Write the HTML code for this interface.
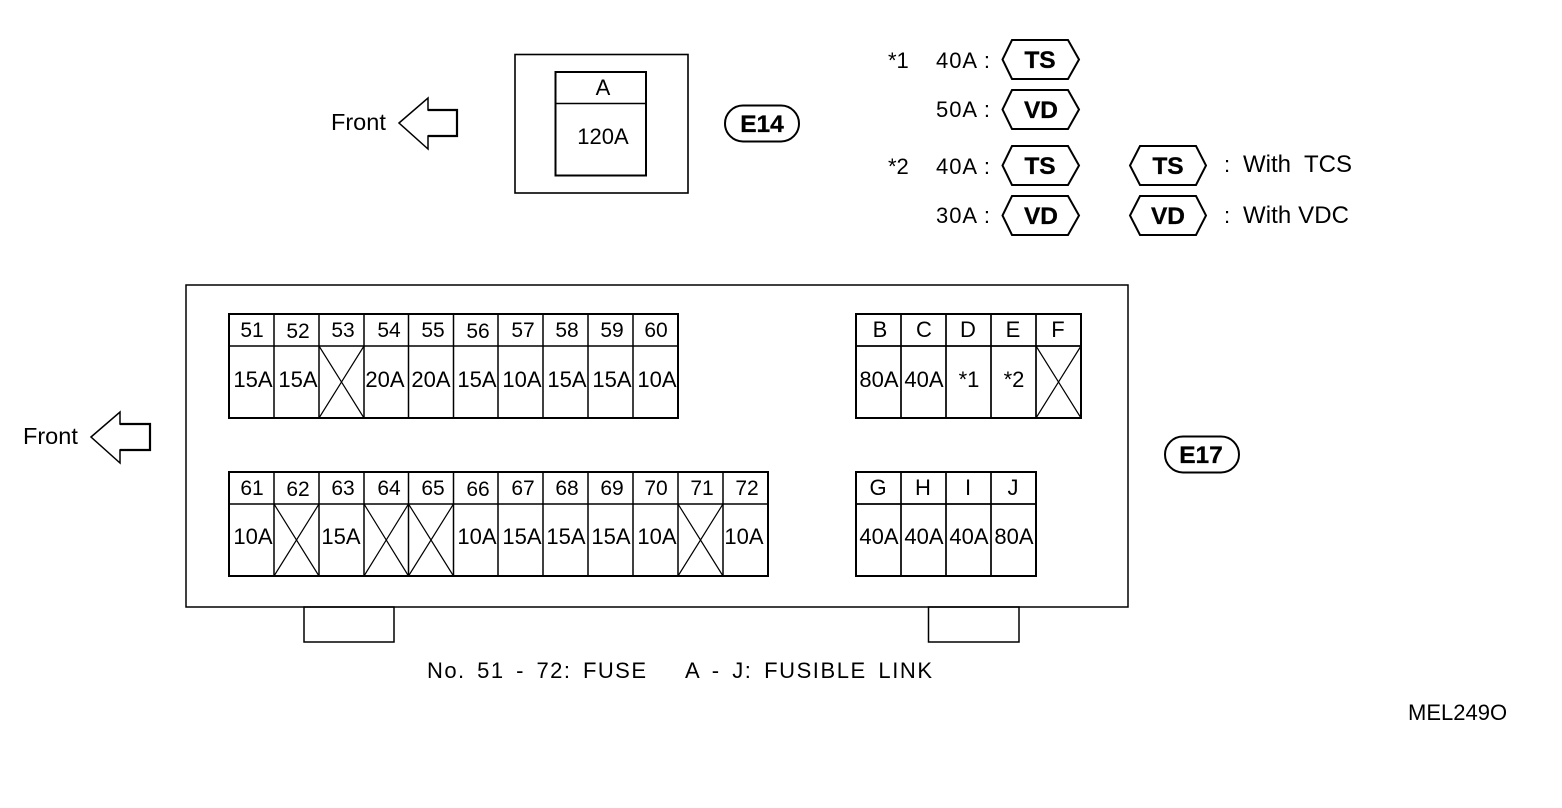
<!DOCTYPE html>
<html>
<head>
<meta charset="utf-8">
<style>
html,body{margin:0;padding:0;background:#fff;}
svg{display:block;}
text{font-family:"Liberation Sans",sans-serif;font-size:22px;fill:#000;}
.c{text-anchor:middle;}
.h{text-anchor:middle;font-size:21px;}
.b{font-weight:bold;font-size:24.5px;text-anchor:middle;stroke:#000;stroke-width:.3;}
.w{font-size:24px;}
.l{fill:none;stroke:#000;stroke-width:1.5;}
.t{fill:none;stroke:#000;stroke-width:2;}
.x{fill:none;stroke:#000;stroke-width:1.2;}
</style>
</head>
<body>
<svg width="1562" height="808" viewBox="0 0 1562 808" xmlns="http://www.w3.org/2000/svg">
<rect width="1562" height="808" fill="#fff"/>

<!-- E14 -->
<text x="331" y="130" style="font-size:23.5px">Front</text>
<polygon class="l" points="399,123 428,98 428,110 457,110 457,136 428,136 428,149"/>
<path class="t" d="M428 110H457V136H428" style="stroke-width:2.2"/>
<rect class="t" x="515" y="54.500" width="173" height="138.500" style="stroke-width:1.6"/>
<rect class="t" x="555.500" y="72" width="90.500" height="103.500"/>
<line class="l" x1="555.500" y1="103.500" x2="646" y2="103.500"/>
<text class="c" x="603" y="95">A</text>
<text class="c" x="603" y="144">120A</text>
<rect class="t" x="725" y="105.500" width="74" height="36" rx="18"/>
<text class="b" x="762" y="132">E14</text>

<!-- Legend -->
<text x="888" y="68">*1</text>
<text x="936" y="68" textLength="54">40A :</text>
<text x="936" y="117" textLength="54">50A :</text>
<text x="888" y="174">*2</text>
<text x="936" y="174" textLength="54">40A :</text>
<text x="936" y="223" textLength="54">30A :</text>
<polygon class="t" points="1012,40 1068,40 1079,59.500 1068,79 1012,79 1002.500,59.500"/>
<polygon class="t" points="1012,90 1068,90 1079,109.500 1068,129 1012,129 1002.500,109.500"/>
<polygon class="t" points="1012,146 1068,146 1079,165.500 1068,185 1012,185 1002.500,165.500"/>
<polygon class="t" points="1012,196 1068,196 1079,215.500 1068,235 1012,235 1002.500,215.500"/>
<polygon class="t" points="1140,146 1196,146 1206,165.500 1196,185 1140,185 1130,165.500"/>
<polygon class="t" points="1140,196 1196,196 1206,215.500 1196,235 1140,235 1130,215.500"/>
<text class="b" x="1040" y="68">TS</text>
<text class="b" x="1041" y="118">VD</text>
<text class="b" x="1040" y="174">TS</text>
<text class="b" x="1041" y="224">VD</text>
<text class="b" x="1168" y="174">TS</text>
<text class="b" x="1168" y="224">VD</text>
<text x="1224" y="172">:</text>
<text class="w" x="1243" y="172">With</text>
<text class="w" x="1304" y="172">TCS</text>
<text x="1224" y="223">:</text>
<text class="w" x="1243" y="223" textLength="106">With VDC</text>

<!-- E17 main body -->
<text x="23" y="444" style="font-size:23.5px">Front</text>
<polygon class="l" points="91,437 120,412 120,424 150,424 150,450 120,450 120,463"/>
<path class="t" d="M120 424H150V450H120" style="stroke-width:2.2"/>
<rect class="l" x="186" y="285" width="942" height="322"/>
<rect class="l" x="304" y="607" width="90" height="35"/>
<rect class="l" x="928.500" y="607" width="90.500" height="35"/>
<rect class="t" x="1165" y="436.500" width="74" height="36" rx="18"/>
<text class="b" x="1201" y="463">E17</text>

<!-- Grid 51-60 -->
<rect class="t" x="229" y="314" width="449" height="104"/>
<path class="l" d="M229 346H678M274 314V418M319 314V418M364 314V418M408.500 314V418M453.500 314V418M498 314V418M543 314V418M588 314V418M633 314V418"/>
<path class="x" d="M319 346L364 418M364 346L319 418"/>
<text class="h" x="252" y="337">51</text><text class="h" x="298" y="338">52</text><text class="h" x="343" y="337">53</text><text class="h" x="389" y="337">54</text><text class="h" x="433" y="337">55</text><text class="h" x="478" y="338">56</text><text class="h" x="523" y="337">57</text><text class="h" x="567" y="337">58</text><text class="h" x="612" y="337">59</text><text class="h" x="656" y="337">60</text>
<text class="c" x="253" y="387">15A</text><text class="c" x="298" y="387">15A</text><text class="c" x="385" y="387">20A</text><text class="c" x="431" y="387">20A</text><text class="c" x="477" y="387">15A</text><text class="c" x="522" y="387">10A</text><text class="c" x="567" y="387">15A</text><text class="c" x="612" y="387">15A</text><text class="c" x="657" y="387">10A</text>

<!-- Grid 61-72 -->
<rect class="t" x="229" y="472" width="539" height="104"/>
<path class="l" d="M229 504H768M274 472V576M319 472V576M364 472V576M408.500 472V576M453.500 472V576M498 472V576M543 472V576M588 472V576M633 472V576M678 472V576M723 472V576"/>
<path class="x" d="M274 504L319 576M319 504L274 576M364 504L408.500 576M408.500 504L364 576M408.500 504L453.500 576M453.500 504L408.500 576M678 504L723 576M723 504L678 576"/>
<text class="h" x="252" y="495">61</text><text class="h" x="298" y="496">62</text><text class="h" x="343" y="495">63</text><text class="h" x="389" y="495">64</text><text class="h" x="433" y="495">65</text><text class="h" x="478" y="496">66</text><text class="h" x="523" y="495">67</text><text class="h" x="567" y="495">68</text><text class="h" x="612" y="495">69</text><text class="h" x="656" y="495">70</text><text class="h" x="702" y="495">71</text><text class="h" x="747" y="495">72</text>
<text class="c" x="253" y="544">10A</text><text class="c" x="341" y="544">15A</text><text class="c" x="477" y="544">10A</text><text class="c" x="522" y="544">15A</text><text class="c" x="566" y="544">15A</text><text class="c" x="611" y="544">15A</text><text class="c" x="657" y="544">10A</text><text class="c" x="744" y="544">10A</text>

<!-- Grid B-F -->
<rect class="t" x="856" y="314" width="225" height="104"/>
<path class="t" d="M856 346H1081M901 314V418M946 314V418M991 314V418M1036 314V418" style="stroke-width:1.7"/>
<path class="x" d="M1036 346L1081 418M1081 346L1036 418"/>
<text class="c" x="880" y="337">B</text><text class="c" x="924" y="337">C</text><text class="c" x="968" y="337">D</text><text class="c" x="1013" y="337">E</text><text class="c" x="1058" y="337">F</text>
<text class="c" x="879" y="387">80A</text><text class="c" x="924" y="387">40A</text><text class="c" x="969" y="387">*1</text><text class="c" x="1014" y="387">*2</text>

<!-- Grid G-J -->
<rect class="t" x="856" y="472" width="180" height="104"/>
<path class="t" d="M856 504H1036M901 472V576M946 472V576M991 472V576" style="stroke-width:1.7"/>
<text class="c" x="878" y="495">G</text><text class="c" x="923" y="495">H</text><text class="c" x="968" y="495">I</text><text class="c" x="1013" y="495">J</text>
<text class="c" x="879" y="544">40A</text><text class="c" x="924" y="544">40A</text><text class="c" x="969" y="544">40A</text><text class="c" x="1014" y="544">80A</text>

<!-- Footer -->
<text x="427" y="678" textLength="219" lengthAdjust="spacing" style="word-spacing:4px">No. 51 - 72: FUSE</text>
<text x="685" y="678" textLength="247" lengthAdjust="spacing" style="word-spacing:4px">A - J: FUSIBLE LINK</text>
<text x="1408" y="720">MEL249O</text>
</svg>
</body>
</html>
